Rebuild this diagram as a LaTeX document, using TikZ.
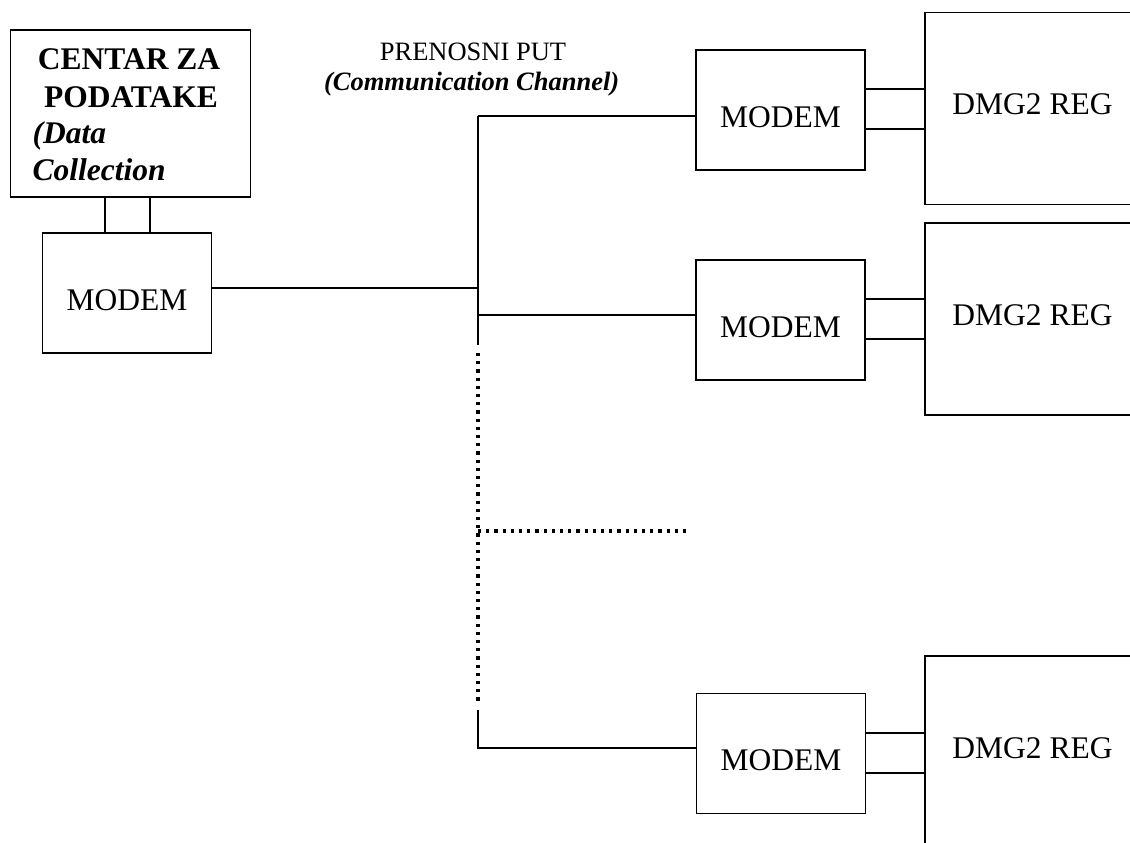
\documentclass[tikz,border=0pt]{standalone}
\usepackage{fontspec}
\setmainfont{Liberation Serif}
\usepackage{tikz}
\usetikzlibrary{calc}

\begin{document}
\begin{tikzpicture}[
  x=1pt, y=-1pt,
  line width=1.4pt,
  centerbox/.style={draw, inner sep=0, minimum width=240pt, minimum height=167pt},
  modembox/.style={draw, inner sep=0, minimum width=169pt, minimum height=120pt,
    font=\fontsize{31.5}{36}\selectfont, text height=34pt, text depth=0pt},
  regbox/.style={draw, inner sep=0, minimum width=215pt, minimum height=192pt,
    font=\fontsize{31.5}{36}\selectfont, text depth=8pt},
  boldline/.style={font=\fontsize{31.5}{36}\selectfont\bfseries},
  italine/.style={font=\fontsize{31.5}{36}\selectfont\bfseries\itshape},
  dotline/.style={line width=3.2pt, dash pattern=on 3.2pt off 5pt}
]
  \useasboundingbox (0,0) rectangle (1130,843);
  \clip (0,0) rectangle (1130,843);

  % Data centre
  \node[centerbox] (centar) at (130.7,113.5) {};
  \node[boldline, anchor=base] (c1) at (129,70) {CENTAR ZA};
  \node[boldline, anchor=base] (c2) at (131,107) {PODATAKE};
  \node[italine, anchor=base west, inner sep=0] (c3) at (32,143) {(Data};
  \node[italine, anchor=base west, inner sep=0] (c4) at (32,180) {Collection};
  \node[modembox] (modem0) at (127,293) {MODEM};
  \draw ([xshift=-22pt]modem0.north) -- ([xshift=-22pt]modem0.north |- centar.south);
  \draw ([xshift=23pt]modem0.north) -- ([xshift=23pt]modem0.north |- centar.south);

  % Channel label
  \node[font=\fontsize{26.5}{30}\selectfont, anchor=base] (chan) at (473,60) {PRENOSNI PUT};
  \node[font=\fontsize{26.5}{30}\selectfont\bfseries\itshape, anchor=base east, inner sep=0]
    (chanen) at (620,90) {(Communication Channel)};

  % Remote stations
  \node[modembox] (modem1) at (780.5,110) {MODEM};
  \node[regbox] (reg1) at (1032.5,108.5) {DMG2 REG};
  \node[modembox] (modem2) at (780.5,320) {MODEM};
  \node[regbox] (reg2) at (1032.5,319) {DMG2 REG};
  \node[modembox] (modem3) at (781,753.5) {MODEM};
  \node[regbox] (reg3) at (1032.5,752) {DMG2 REG};

  \draw ([yshift=21pt]modem1.east) -- ([yshift=21pt]modem1.east -| reg1.west);
  \draw ([yshift=-19pt]modem1.east) -- ([yshift=-19pt]modem1.east -| reg1.west);
  \draw ([yshift=21pt]modem2.east) -- ([yshift=21pt]modem2.east -| reg2.west);
  \draw ([yshift=-19pt]modem2.east) -- ([yshift=-19pt]modem2.east -| reg2.west);
  \draw ([yshift=20.5pt]modem3.east) -- ([yshift=20.5pt]modem3.east -| reg3.west);
  \draw ([yshift=-19.5pt]modem3.east) -- ([yshift=-19.5pt]modem3.east -| reg3.west);

  % Bus
  \coordinate (b1) at (478,116);
  \coordinate (b0) at (478,288);
  \coordinate (b2) at (478,315);
  \coordinate (bend) at (478,345);
  \coordinate (dtop) at (478,353);
  \coordinate (dbot) at (478,703);
  \coordinate (bstart) at (478,710);
  \coordinate (b3) at (478,748);
  \coordinate (bmid) at (478,531);
  \coordinate (dend) at (690,531);

  \draw (b1) -- (bend);
  \draw[dotline] (dtop) -- (dbot);
  \draw[dotline] (bmid) -- (dend);
  \draw (bstart) -- (b3) -- (b3 -| modem3.west);
  \draw (b1) -- (b1 -| modem1.west);
  \draw (b2) -- (b2 -| modem2.west);
  \draw (modem0.east |- b0) -- (b0);
\end{tikzpicture}
\end{document}
